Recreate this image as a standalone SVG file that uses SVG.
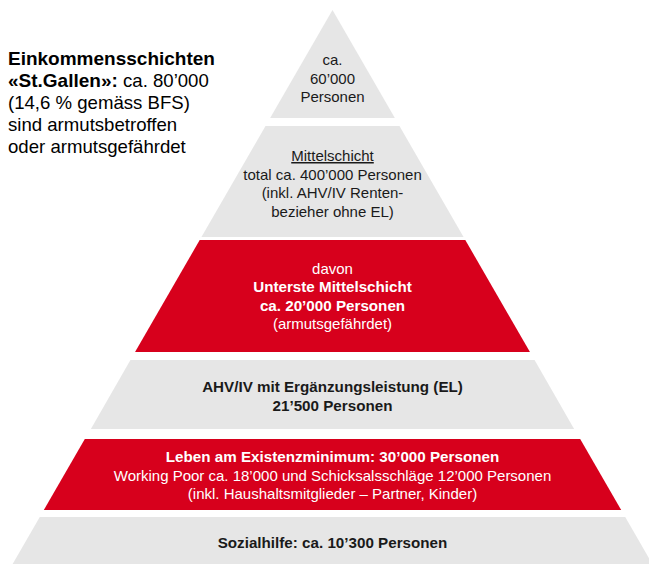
<svg xmlns="http://www.w3.org/2000/svg" width="649" height="564" viewBox="0 0 649 564">
<style>
.g{fill:#e6e6e6}
.r{fill:#d7001c}
text{font-family:"Liberation Sans",Arial,sans-serif;font-size:15px;text-anchor:middle;fill:#1a1a1a}
.w{fill:#ffffff}
.b{font-weight:bold;font-size:15.2px}
.lt{font-size:18.6px;text-anchor:start;fill:#000}
.lb{font-weight:bold;font-size:19px}
</style>
<rect width="649" height="564" fill="#ffffff"/>
<g id="intro">
<text class="lt" x="8" y="65"><tspan class="lb">Einkommensschichten</tspan></text>
<text class="lt" x="8" y="87"><tspan class="lb">«St.Gallen»:</tspan> ca. 80’000</text>
<text class="lt" x="8" y="109">(14,6 % gemäss BFS)</text>
<text class="lt" x="8" y="131">sind armutsbetroffen</text>
<text class="lt" x="8" y="153">oder armutsgefährdet</text>
</g>
<g id="top">
<polygon class="g" points="332.5,10 394.85,118 270.15,118"/>
<text x="332.5" y="65">ca.</text>
<text x="332.5" y="83.5">60’000</text>
<text x="332.5" y="102">Personen</text>
</g>
<g id="mittelschicht">
<polygon class="g" points="265.53,126 399.47,126 463.56,237 201.44,237"/>
<text x="332.5" y="161" text-decoration="underline">Mittelschicht</text>
<text x="332.5" y="179.5">total ca. 400’000 Personen</text>
<text x="332.5" y="198">(inkl. AHV/IV Renten-</text>
<text x="332.5" y="216.5">bezieher ohne EL)</text>
</g>
<g id="unterste">
<polygon class="r" points="199.71,240 465.29,240 529.95,352 135.05,352"/>
<text class="w" x="332.5" y="273.5">davon</text>
<text class="w b" x="332.5" y="292">Unterste Mittelschicht</text>
<text class="w b" x="332.5" y="310.5">ca. 20’000 Personen</text>
<text class="w" x="332.5" y="329">(armutsgefährdet)</text>
</g>
<g id="ahv">
<polygon class="g" points="130.43,360 534.57,360 574.12,429 90.88,429"/>
<text class="b" x="332.5" y="392">AHV/IV mit Ergänzungsleistung (EL)</text>
<text class="b" x="332.5" y="410.5">21’500 Personen</text>
</g>
<g id="existenzminimum">
<polygon class="r" points="84.82,439 580.18,439 621.18,510 43.82,510"/>
<text class="w b" x="332.5" y="462">Leben am Existenzminimum: 30’000 Personen</text>
<text class="w" x="332.5" y="480.5">Working Poor ca. 18’000 und Schicksalsschläge 12’000 Personen</text>
<text class="w" x="332.5" y="499">(inkl. Haushaltsmitglieder – Partner, Kinder)</text>
</g>
<g id="sozialhilfe">
<polygon class="g" points="39.78,517 625.22,517 652.35,564 12.65,564"/>
<text class="b" x="332.5" y="548">Sozialhilfe: ca. 10’300 Personen</text>
</g>
<g id="connectors"></g>
</svg>
